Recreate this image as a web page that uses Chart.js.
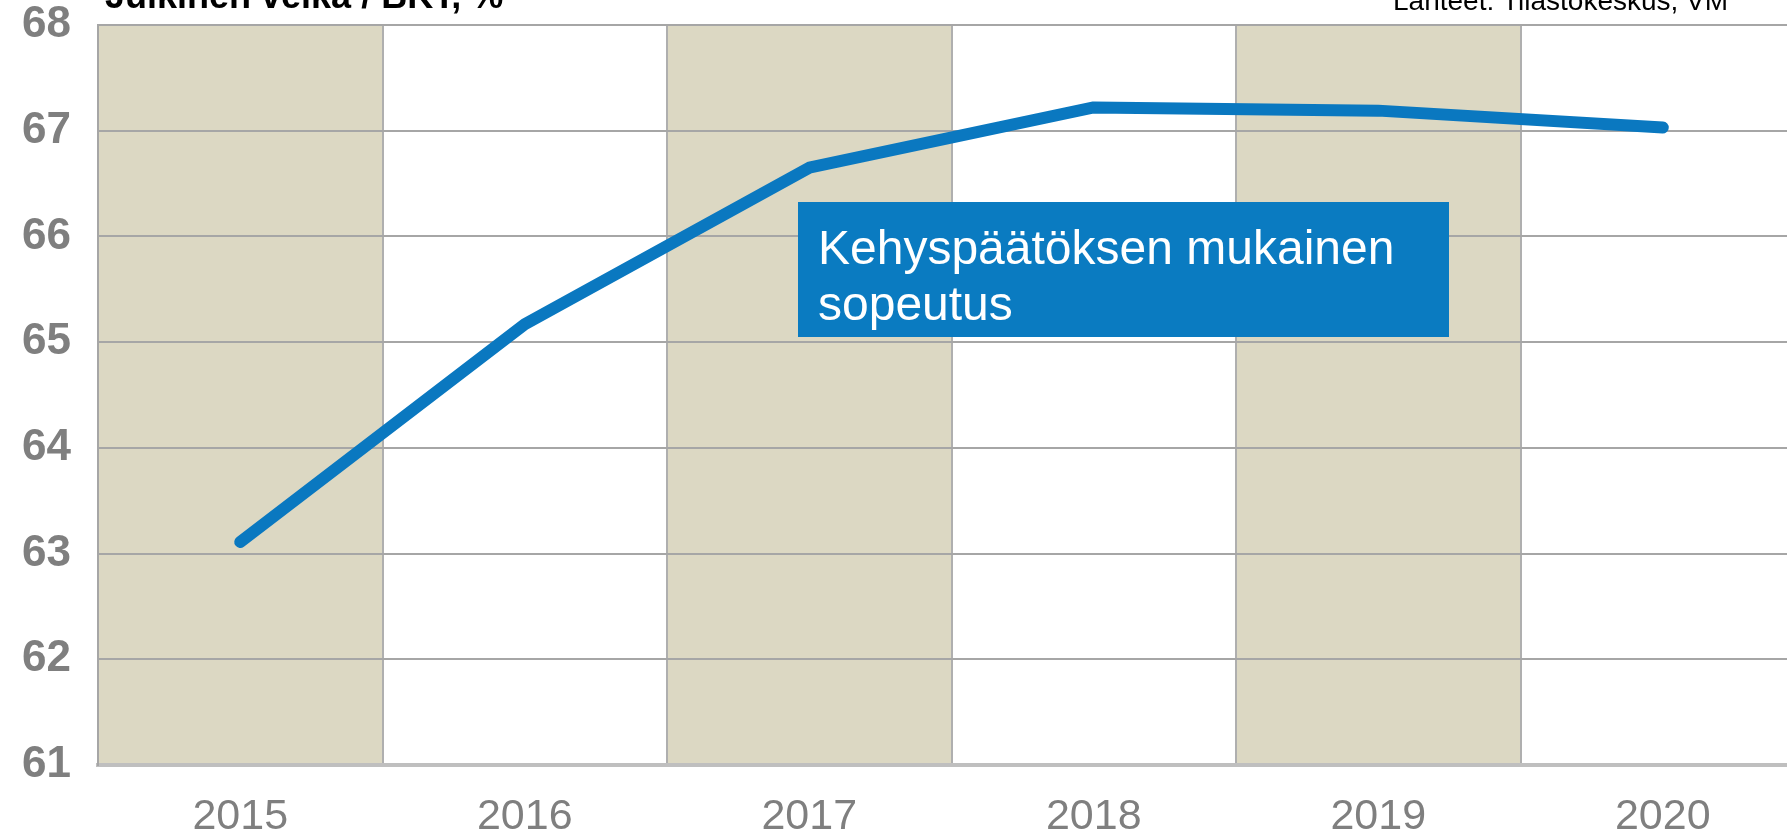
<!DOCTYPE html>
<html>
<head>
<meta charset="utf-8">
<script src="https://cdn.jsdelivr.net/npm/chart.js@4"></script>
<style>
  html, body { margin: 0; padding: 0; background: #fff; overflow: hidden; }
  #wrap { position: relative; width: 1805px; height: 834px; }
</style>
</head>
<body>
<div id="wrap"><canvas id="velka"></canvas></div>
<script>
// Julkinen velka / BKT, %
const vuodet = ["2015", "2016", "2017", "2018", "2019", "2020"];
const velka = [63.11, 65.17, 66.65, 67.22, 67.19, 67.03];
const yMin = 61;
const yMax = 68;
const varjostetut = [true, false, true, false, true, false];

const otsikko = "Julkinen velka / BKT, %";
const lahde = "Lähteet: Tilastokeskus, VM";
const laatikko = ["Kehyspäätöksen mukainen", "sopeutus"];

// vaaleat raidat joka toisen vuoden taakse
const raidat = {
    id: "raidat",
    beforeDraw(chart) {
        const { ctx, chartArea, scales } = chart;
        const x = scales.x;
        const leveys = x.getPixelForValue(1) - x.getPixelForValue(0);
        ctx.save();
        ctx.fillStyle = "#DCD8C3";
        varjostetut.forEach((v, i) => {
            if (!v) return;
            const keski = x.getPixelForValue(i);
            ctx.fillRect(keski - leveys / 2, chartArea.top, leveys, chartArea.bottom - chartArea.top);
        });
        ctx.restore();
    }
};

// otsikko, lähde ja sininen laatikko
const tekstit = {
    id: "tekstit",
    afterDraw(chart) {
        const { ctx } = chart;
        ctx.save();
        ctx.fillStyle = "#000";
        ctx.textBaseline = "alphabetic";
        ctx.font = "bold 36px 'Liberation Sans', Arial, sans-serif";
        ctx.textAlign = "left";
        ctx.fillText(otsikko, 105, 8);
        ctx.font = "28px 'Liberation Sans', Arial, sans-serif";
        ctx.fillText(lahde, 1393, 10);

        ctx.fillStyle = "#0A7BC1";
        ctx.fillRect(798, 202, 651, 135);
        ctx.fillStyle = "#fff";
        ctx.font = "48px 'Liberation Sans', Arial, sans-serif";
        ctx.fillText(laatikko[0], 818, 264);
        ctx.fillText(laatikko[1], 818, 320);
        ctx.restore();
    }
};

new Chart(document.getElementById("velka"), {
    type: "line",
    data: {
        labels: vuodet,
        datasets: [{
            label: "Julkinen velka / BKT",
            data: velka,
            borderColor: "#0A78C0",
            borderWidth: 12,
            borderCapStyle: "round",
            borderJoinStyle: "round",
            pointRadius: 0,
            tension: 0
        }]
    },
    options: {
        responsive: true,
        maintainAspectRatio: false,
        animation: false,
        layout: { padding: { top: 25, right: 0, left: 0, bottom: 0 } },
        plugins: {
            legend: { display: false },
            tooltip: { enabled: false }
        },
        scales: {
            x: {
                offset: true,
                grid: { offset: true, color: "#AFAFAF", lineWidth: 2, drawTicks: false },
                border: { color: "#BFBFBF", width: 4 },
                ticks: {
                    color: "#7F7F7F",
                    padding: 26,
                    font: { family: "'Liberation Sans', Arial, sans-serif", size: 43 }
                },
                afterFit(scale) { scale.height = 69; scale.paddingLeft = 0; scale.paddingRight = 0; }
            },
            y: {
                min: yMin,
                max: yMax,
                grid: { color: "#A6A6A6", lineWidth: 2, drawTicks: false },
                border: { color: "#A6A6A6", width: 2 },
                ticks: {
                    stepSize: 1,
                    color: "#7F7F7F",
                    padding: 27,
                    font: { family: "'Liberation Sans', Arial, sans-serif", size: 44, weight: "bold" }
                },
                afterFit(scale) { scale.width = 98; scale.paddingTop = 0; scale.paddingBottom = 0; }
            }
        }
    },
    plugins: [raidat, tekstit]
});
</script>
</body>
</html>
